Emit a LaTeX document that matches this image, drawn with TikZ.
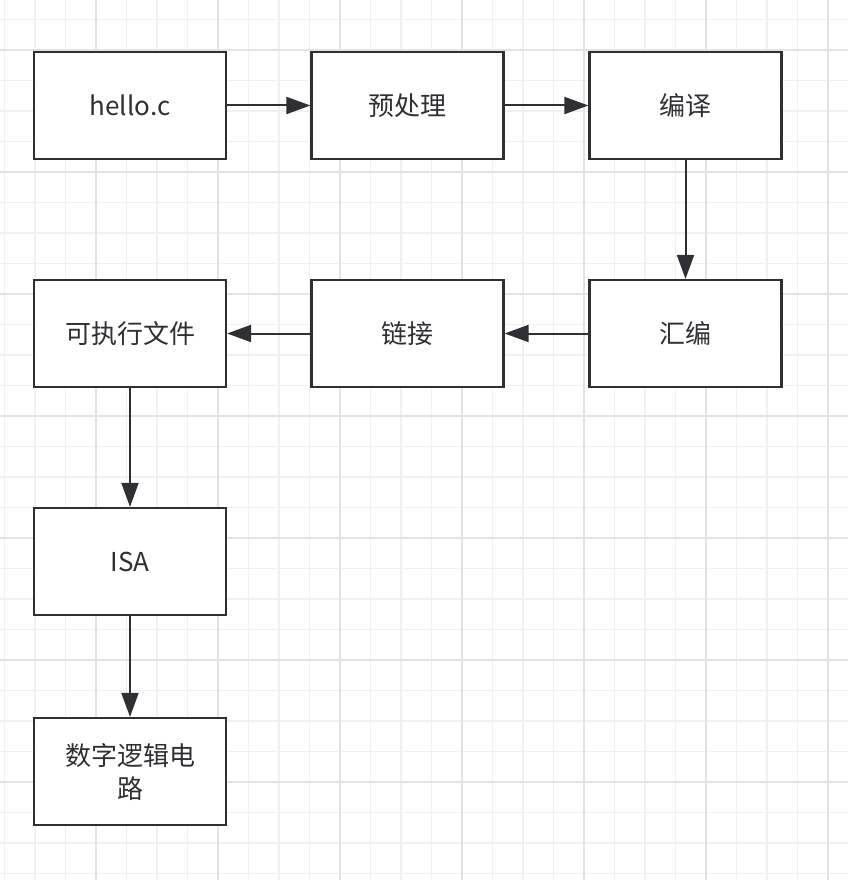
\documentclass[tikz,border=0pt]{standalone}
\usepackage{fontspec}
\setmainfont{Noto Sans CJK SC}
\usetikzlibrary{arrows.meta}
\definecolor{ink}{RGB}{46,48,52}
\definecolor{gridminor}{RGB}{240,240,240}
\definecolor{gridmajor}{RGB}{226,226,226}
\tikzset{
  stepbox/.style={draw=ink, line width=2.2pt, fill=white, minimum width=192pt, minimum height=107pt, inner sep=0pt, font=\fontsize{26}{33}\selectfont, text=ink, align=center},
  flow/.style={draw=ink, line width=2pt, -{Triangle[length=24pt,width=17pt]}}
}
\begin{document}
\begin{tikzpicture}[x=1pt,y=-1pt]
\useasboundingbox (0,0) rectangle (848,880);
\fill[white] (0,0) rectangle (848,880);
% minor grid
\foreach \i in {-3,...,24} {
  \draw[gridminor, line width=1.3pt] ({96+30.5*\i},0) -- ({96+30.5*\i},880);
}
\foreach \i in {-1,...,27} {
  \draw[gridminor, line width=1.3pt] (0,{50+30.5*\i}) -- (848,{50+30.5*\i});
}
% major grid
\foreach \i in {0,...,6} {
  \draw[gridmajor, line width=1.7pt] ({96+122*\i},0) -- ({96+122*\i},880);
}
\foreach \i in {0,...,6} {
  \draw[gridmajor, line width=1.7pt] (0,{50+122*\i}) -- (848,{50+122*\i});
}
% nodes
\node[stepbox] (hello) at (130,105.5) {hello.c};
\node[stepbox] (pre) at (407.5,105.5) {预处理};
\node[stepbox] (comp) at (685.5,105.5) {编译};
\node[stepbox] (asm) at (685.5,333.5) {汇编};
\node[stepbox] (link) at (407.5,333.5) {链接};
\node[stepbox] (exe) at (130,333.5) {可执行文件};
\node[stepbox] (isa) at (130,561.5) {ISA};
\node[stepbox] (logic) at (130,771.5) {数字逻辑电\\路};
% connectors
\draw[flow] (hello.east) -- (pre.west);
\draw[flow] (pre.east) -- (comp.west);
\draw[flow] (comp.south) -- (asm.north);
\draw[flow] (asm.west) -- (link.east);
\draw[flow] (link.west) -- (exe.east);
\draw[flow] (exe.south) -- (isa.north);
\draw[flow] (isa.south) -- (logic.north);
\end{tikzpicture}
\end{document}
